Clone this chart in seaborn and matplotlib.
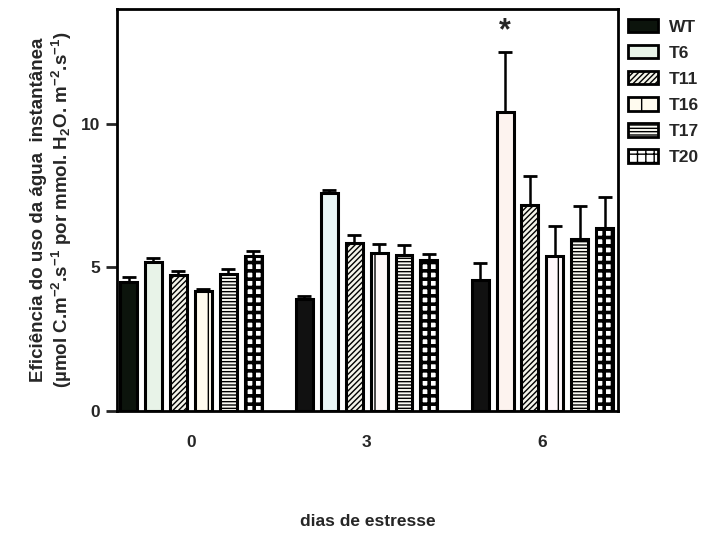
import numpy as np
import pandas as pd
import matplotlib
matplotlib.use('Agg')
import matplotlib.pyplot as plt
from matplotlib.patches import Patch
import seaborn as sns

# dados
dias = ['0', '3', '6']
linhas = ['WT', 'T6', 'T11', 'T16', 'T17', 'T20']

media = {
    'WT':  [4.49, 3.90, 4.55],
    'T6':  [5.19, 7.60, 10.42],
    'T11': [4.75, 5.84, 7.19],
    'T16': [4.19, 5.49, 5.40],
    'T17': [4.76, 5.42, 6.00],
    'T20': [5.41, 5.26, 6.39],
}
erro = {
    'WT':  [0.19, 0.12, 0.61],
    'T6':  [0.14, 0.08, 2.08],
    'T11': [0.13, 0.29, 1.00],
    'T16': [0.06, 0.32, 1.05],
    'T17': [0.19, 0.36, 1.15],
    'T20': [0.16, 0.20, 1.07],
}

# estilos de cada linhagem
hatches = {'WT': '', 'T6': '', 'T11': '//////', 'T16': '|', 'T17': '-----', 'T20': '++'}
cores = {
    'WT':  ['#0c140c', '#111111', '#111111'],
    'T6':  ['#e8f3e8', '#eaf6f6', '#fdf3ef'],
    'T11': ['#f4f4ea', '#f4f4ea', '#f4f4ea'],
    'T16': ['#fffbef', '#fff8f8', '#fff8fb'],
    'T17': ['#fbfbf4', '#fbfbf4', '#fbfbf4'],
    'T20': ['#ffffff', '#ffffff', '#ffffff'],
}


def main():
    sns.set_style('white')
    plt.rcParams['font.family'] = ['Liberation Sans', 'DejaVu Sans']
    plt.rcParams['font.weight'] = 'bold'
    plt.rcParams['mathtext.fontset'] = 'custom'
    plt.rcParams['mathtext.rm'] = 'Liberation Sans:bold'
    plt.rcParams['mathtext.it'] = 'Liberation Sans:bold'
    plt.rcParams['mathtext.bf'] = 'Liberation Sans:bold'
    plt.rcParams['mathtext.default'] = 'rm'
    plt.rcParams['hatch.linewidth'] = 1.0

    df = pd.DataFrame([
        {'dia': d, 'linha': l, 'valor': media[l][i], 'erro': erro[l][i]}
        for l in linhas for i, d in enumerate(dias)
    ])

    fig = plt.figure(figsize=(7.05, 5.33), dpi=100)
    ax = fig.add_axes([117 / 705, 1 - 411 / 533, (618 - 117) / 705, (411 - 9) / 533])

    sns.barplot(data=df, x='dia', y='valor', hue='linha', order=dias,
                hue_order=linhas, width=0.85, gap=0.32, errorbar=None,
                edgecolor='black', linewidth=2.2, legend=False, ax=ax)

    # patches vem agrupados por hue
    patches = [p for p in ax.patches if p.get_height() > 0]
    for j, l in enumerate(linhas):
        for i in range(len(dias)):
            p = patches[j * len(dias) + i]
            p.set_facecolor(cores[l][i])
            p.set_hatch(hatches[l])
            p.set_edgecolor('black')
            if l == 'T20' and hasattr(p, 'set_hatch_linewidth'):
                p.set_hatch_linewidth(2.6)
            x = p.get_x() + p.get_width() / 2
            ax.errorbar(x, p.get_height(), yerr=[[0], [erro[l][i]]], fmt='none',
                        ecolor='black', elinewidth=1.8, capsize=5, capthick=2,
                        zorder=1)
            if l == 'T6' and dias[i] == '6':
                ax.text(x, p.get_height() + erro[l][i] + 0.2, '*', ha='center',
                        va='bottom', fontsize=22, fontweight='bold')

    ax.set_ylim(0, 14)
    ax.set_xlim(-0.42, 2.43)
    ax.set_yticks([0, 5, 10])
    ax.tick_params(axis='y', direction='out', length=8, width=2, labelsize=12.5, pad=4, left=True)
    ax.tick_params(axis='x', length=0, labelsize=12.5, pad=17)
    for s in ax.spines.values():
        s.set_linewidth(2)
        s.set_color('black')

    ax.set_xlabel('dias de estresse', fontsize=12.5, fontweight='bold', labelpad=46)
    ax.set_ylabel('Eficiência do uso da água  instantânea\n'
                  '(µmol C.m$^{-2}$.s$^{-1}$ por mmol. H$_2$O. m$^{-2}$.s$^{-1}$)',
                  fontsize=13.5, fontweight='bold', labelpad=5, linespacing=1.15)

    handles = []
    for l in linhas:
        h = Patch(facecolor=cores[l][0], edgecolor='black', hatch=hatches[l],
                  linewidth=2, label=l)
        handles.append(h)
    fig.legend(handles=handles, loc='upper left',
               bbox_to_anchor=(628 / 705, 1 - 19 / 533), frameon=False,
               borderpad=0, borderaxespad=0, handlelength=1.75,
               handleheight=0.8, labelspacing=0.6, handletextpad=0.6,
               prop={'weight': 'bold', 'size': 12.5})

    fig.savefig('out.png', dpi=100)


if __name__ == '__main__':
    main()
